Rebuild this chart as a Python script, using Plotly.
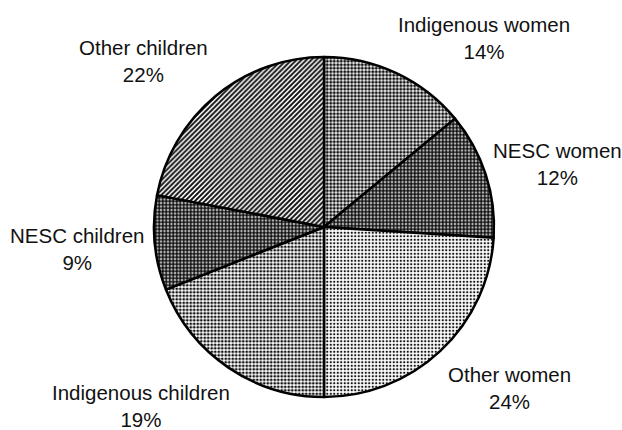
import plotly.graph_objects as go

labels = ["Indigenous women", "NESC women", "Other women",
          "Indigenous children", "NESC children", "Other children"]
values = [14, 12, 24, 19, 9, 22]
pattern_shapes = [".", ".", ".", ".", ".", "/"]
pattern_solidity = [0.6, 0.75, 0.33, 0.5, 0.75, 0.55]
# label anchor positions (pixels in the 622x430 page)
label_x = [484, 557, 509, 141, 77, 143]
label_y = [38, 164, 388, 406, 249, 61]

W, H = 622, 430
cx, cy, r = 324, 227, 170

fig = go.Figure(go.Pie(
    labels=labels,
    values=values,
    sort=False,
    direction="clockwise",
    rotation=0,
    textinfo="none",
    hoverinfo="label+percent",
    marker=dict(
        colors=["white"] * len(values),
        line=dict(color="black", width=2.5),
        pattern=dict(shape=pattern_shapes, fgcolor="#111111",
                     bgcolor="white", size=3.5, solidity=pattern_solidity),
    ),
    domain=dict(x=[(cx - r) / W, (cx + r) / W],
                y=[(H - cy - r) / H, (H - cy + r) / H]),
    showlegend=False,
))

for lab, v, x, y in zip(labels, values, label_x, label_y):
    fig.add_annotation(
        x=x / W, y=1 - y / H, xref="paper", yref="paper",
        text=f"{lab}<br>{v}%", showarrow=False,
        font=dict(family="Liberation Sans, Arial, sans-serif", size=20.5, color="#111"),
        align="center", xanchor="center", yanchor="middle",
    )

fig.update_layout(
    width=W, height=H,
    margin=dict(l=0, r=0, t=0, b=0),
    paper_bgcolor="white", plot_bgcolor="white",
)

fig.write_html("out.html", config={"displayModeBar": False},
               post_script="document.body.style.margin='0';")
